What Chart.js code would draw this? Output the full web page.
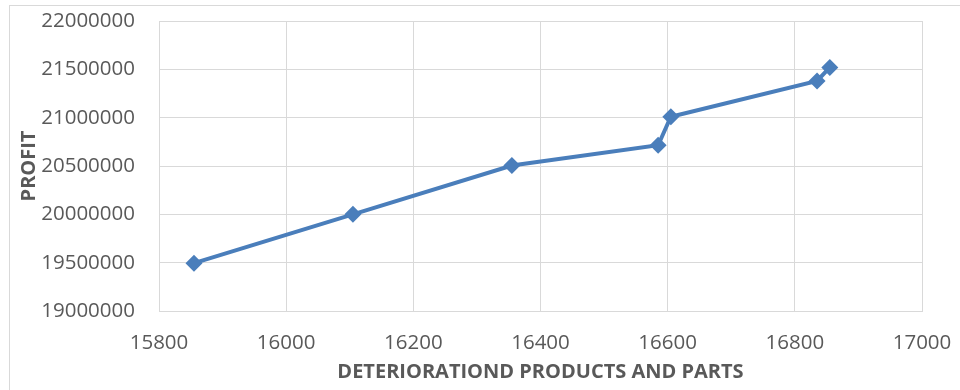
<!DOCTYPE html>
<html>
<head>
<meta charset="utf-8">
<script src="https://cdn.jsdelivr.net/npm/chart.js@4.4.1/dist/chart.umd.min.js"></script>
<style>
  html, body { margin: 0; padding: 0; background: #fff; }
  #wrap { position: relative; width: 960px; height: 390px; }
</style>
</head>
<body>
<div id="wrap"><canvas id="profitChart" width="960" height="390"></canvas></div>
<script>
// Profit vs deteriorated products and parts
var parts = [15855, 16105, 16355, 16585, 16605, 16835, 16855];
var profit = [19495000, 20000000, 20505000, 20715000, 21010000, 21380000, 21520000];

var xTicks = [15800, 16000, 16200, 16400, 16600, 16800, 17000];
var yTicks = [19000000, 19500000, 20000000, 20500000, 21000000, 21500000, 22000000];

var blue = '#4a7ebb';
var gridColor = '#d9d9d9';
var textColor = '#595959';

// light frame around the chart (only top/left edges fall inside the canvas)
var framePlugin = {
  id: 'frame',
  beforeDraw: function (chart) {
    var c = chart.ctx;
    c.save();
    c.strokeStyle = '#d9d9d9';
    c.lineWidth = 1;
    c.strokeRect(9.5, 5.5, 1000, 1000);
    c.restore();
  }
};

const ctx = document.getElementById('profitChart');
const profitChart = new Chart(ctx, {
  type: 'scatter',
  data: {
    datasets: [{
      data: parts.map(function (x, i) { return { x: x, y: profit[i] }; }),
      showLine: true,
      borderColor: blue,
      backgroundColor: blue,
      borderWidth: 4,
      pointStyle: 'rectRot',
      pointRadius: 8.5,
      pointBackgroundColor: blue,
      pointBorderColor: blue,
      pointBorderWidth: 0
    }]
  },
  options: {
    responsive: false,
    animation: false,
    layout: {
      padding: { left: 17, right: 38, top: 21, bottom: 0 }
    },
    scales: {
      x: {
        type: 'linear',
        min: 15800,
        max: 17000,
        afterBuildTicks: function (axis) {
          axis.ticks = xTicks.map(function (v) { return { value: v }; });
        },
        afterFit: function (axis) {
          axis.height = 79;
          axis.paddingLeft = 0;
          axis.paddingRight = 0;
        },
        grid: { color: gridColor, lineWidth: 1, drawTicks: false },
        border: { color: gridColor, width: 1 },
        ticks: {
          color: textColor,
          padding: 20,
          maxRotation: 0,
          font: { family: 'Open Sans', size: 20.5 },
          callback: function (v) { return String(v); }
        },
        title: {
          display: true,
          text: 'DETERIORATIOND PRODUCTS AND PARTS',
          color: textColor,
          padding: { top: 0, bottom: 6 },
          font: { family: 'Open Sans', size: 20, weight: 'bold' }
        }
      },
      y: {
        type: 'linear',
        min: 19000000,
        max: 22000000,
        afterBuildTicks: function (axis) {
          axis.ticks = yTicks.map(function (v) { return { value: v }; });
        },
        afterFit: function (axis) {
          axis.width = 142;
          axis.paddingTop = 0;
          axis.paddingBottom = 0;
        },
        grid: { color: gridColor, lineWidth: 1, drawTicks: false },
        border: { color: gridColor, width: 1 },
        ticks: {
          color: textColor,
          padding: 24,
          font: { family: 'Open Sans', size: 20.5 },
          callback: function (v) { return String(v); }
        },
        title: {
          display: true,
          text: 'PROFIT',
          color: textColor,
          padding: { top: 0, bottom: 0 },
          font: { family: 'Open Sans', size: 20, weight: 'bold' }
        }
      }
    },
    plugins: {
      legend: { display: false },
      tooltip: { enabled: false }
    }
  },
  plugins: [framePlugin]
});
</script>
</body>
</html>
